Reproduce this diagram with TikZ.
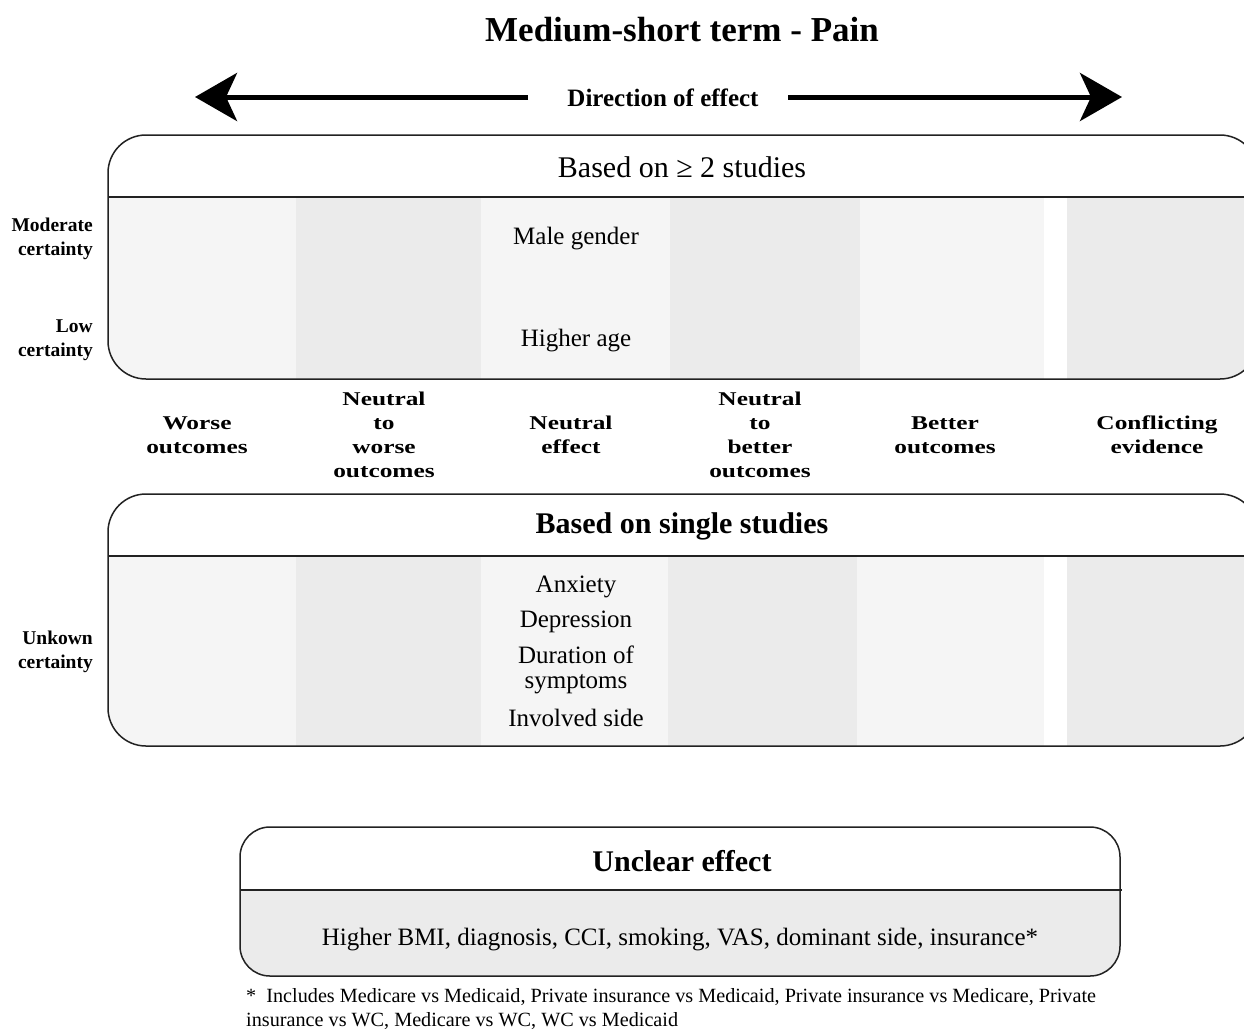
\documentclass[tikz,border=0pt]{standalone}
\usepackage{fontspec}
\setmainfont{Liberation Serif}
\newfontfamily\widefont[FakeStretch=1.3]{Liberation Serif}
\usetikzlibrary{arrows.meta}
\definecolor{lightcol}{HTML}{F5F5F5}
\definecolor{darkcol}{HTML}{EBEBEB}
\definecolor{edgecol}{HTML}{222222}
\tikzset{
  titletxt/.style={font=\fontsize{35}{40}\selectfont\bfseries, inner sep=0pt},
  dirtxt/.style={font=\fontsize{25}{30}\selectfont\bfseries, inner sep=0pt},
  headtxt/.style={font=\fontsize{30}{34}\selectfont, inner sep=0pt},
  headbf/.style={font=\fontsize{30}{34}\selectfont\bfseries, inner sep=0pt},
  itemtxt/.style={font=\fontsize{25}{25}\selectfont, inner sep=0pt, align=center},
  certtxt/.style={font=\fontsize{19.5}{24}\selectfont\bfseries, inner sep=0pt, align=right, anchor=east},
  coltxt/.style={font=\widefont\fontsize{19.5}{24}\selectfont\bfseries, inner sep=0pt, align=center},
  foottxt/.style={font=\fontsize{20.2}{24}\selectfont, inner sep=0pt, anchor=base west},
  boxedge/.style={draw=edgecol, line width=1.5pt},
  bigarrow/.style={line width=5pt, -{Stealth[length=42pt, width=48pt, inset=11pt]}},
}
\begin{document}
\begin{tikzpicture}[x=1pt, y=-1pt]
\useasboundingbox (0,0) rectangle (1244,1029);
\fill[white] (0,0) rectangle (1244,1029);

% title and direction
\node[titletxt] (title) at (682,30) {Medium-short term - Pain};
\node[dirtxt] (dir) at (663,98) {Direction of effect};
\coordinate (lstart) at (528,97);
\coordinate (ltip) at (195,97);
\coordinate (rstart) at (788,97);
\coordinate (rtip) at (1122,97);
\draw[bigarrow] (lstart) -- (ltip);
\draw[bigarrow] (rstart) -- (rtip);

% top box
\begin{scope}
\clip[rounded corners=38pt] (108,135) rectangle (1258,379);
\fill[lightcol] (108,197) rectangle (296,379);
\fill[darkcol] (296,197) rectangle (481,379);
\fill[lightcol] (481,197) rectangle (670,379);
\fill[darkcol] (670,197) rectangle (860,379);
\fill[lightcol] (860,197) rectangle (1044,379);
\fill[darkcol] (1067,197) rectangle (1258,379);
\end{scope}
\draw[boxedge, rounded corners=38pt] (108,135) rectangle (1258,379);
\coordinate (th1) at (108,197);
\coordinate (th2) at (1258,197);
\draw[boxedge] (th1) -- (th2);
\node[headtxt] (head1) at (682,167) {Based on ≥ 2 studies};
\node[itemtxt] (male) at (576,239) {Male gender};
\node[itemtxt] (age) at (576,341) {Higher age};
\node[certtxt] (modc) at (93,239) {Moderate\\certainty};
\node[certtxt] (lowc) at (93,340) {Low\\certainty};

% column labels
\node[coltxt] (c1) at (197,435) {Worse\\outcomes};
\node[coltxt] (c2) at (384,435) {Neutral\\to\\worse\\outcomes};
\node[coltxt] (c3) at (571,435) {Neutral\\effect};
\node[coltxt] (c4) at (760,435) {Neutral\\to\\better\\outcomes};
\node[coltxt] (c5) at (945,435) {Better\\outcomes};
\node[coltxt] (c6) at (1157,435) {Conflicting\\evidence};

% bottom box
\begin{scope}
\clip[rounded corners=38pt] (108,494) rectangle (1258,746);
\fill[lightcol] (108,556) rectangle (296,746);
\fill[darkcol] (296,556) rectangle (481,746);
\fill[lightcol] (481,556) rectangle (668,746);
\fill[darkcol] (668,556) rectangle (857,746);
\fill[lightcol] (857,556) rectangle (1044,746);
\fill[darkcol] (1067,556) rectangle (1258,746);
\end{scope}
\draw[boxedge, rounded corners=38pt] (108,494) rectangle (1258,746);
\coordinate (bh1) at (108,556);
\coordinate (bh2) at (1258,556);
\draw[boxedge] (bh1) -- (bh2);
\node[headbf] (head2) at (682,526) {Based on single studies};
\node[itemtxt] (anx) at (576,587) {Anxiety};
\node[itemtxt] (dep) at (576,622) {Depression};
\node[itemtxt] (dur) at (576,670) {Duration of\\symptoms};
\node[itemtxt] (inv) at (576,718) {Involved side};
\node[certtxt] (unkc) at (93,652) {Unkown\\certainty};

% unclear box
\begin{scope}
\clip[rounded corners=30pt] (240,827) rectangle (1120,976);
\fill[darkcol] (240,890) rectangle (1120,976);
\end{scope}
\draw[boxedge, rounded corners=30pt] (240,827) rectangle (1120,976);
\coordinate (uh1) at (240,890);
\coordinate (uh2) at (1122,890);
\draw[boxedge] (uh1) -- (uh2);
\node[headbf] (head3) at (682,861) {Unclear effect};
\node[itemtxt] (unc) at (680,940) {Higher BMI, diagnosis, CCI, smoking, VAS, dominant side, insurance*};

% footnote
\node[foottxt] (fn1) at (246,1002) {*\ \ Includes Medicare vs Medicaid, Private insurance vs Medicaid, Private insurance vs Medicare, Private};
\node[foottxt] (fn2) at (246,1026) {insurance vs WC, Medicare vs WC, WC vs Medicaid};
\end{tikzpicture}
\end{document}
